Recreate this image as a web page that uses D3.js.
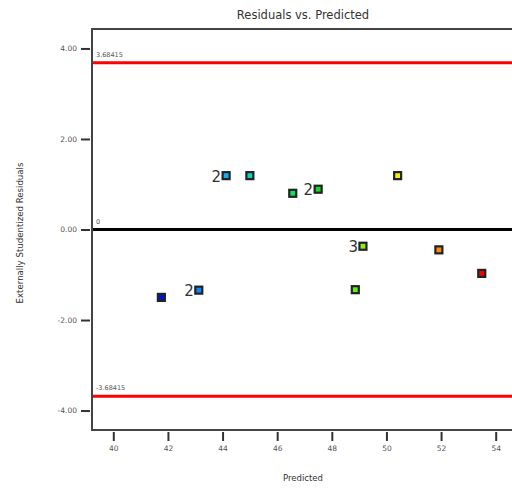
<!DOCTYPE html>
<html>
<head>
<meta charset="utf-8">
<script src="https://cdn.jsdelivr.net/npm/d3@7/dist/d3.min.js"></script>
<style>
  html, body { margin: 0; padding: 0; background: #fff; }
  svg { display: block; }
  text { font-family: "DejaVu Sans", sans-serif; }
</style>
</head>
<body>
<svg id="chart" width="512" height="488"></svg>
<script>
// Residual diagnostics: externally studentized residuals against predicted values
const predicted = [41.76, 43.13, 44.13, 45.00, 46.57, 47.50, 50.41, 49.14, 48.86, 51.92, 53.49];
const residuals = [-1.50, -1.34, 1.19, 1.19, 0.80, 0.89, 1.19, -0.37, -1.33, -0.45, -0.97];
const pointColors = ["#0010e0", "#0a88ff", "#10b0f0", "#10d0c0", "#10e060", "#10dc20",
                     "#f0f010", "#90f010", "#60f010", "#ff8810", "#f80000"];
const repeatCounts = ["", "2", "2", "", "", "2", "", "3", "", "", ""];
const limitValue = 3.68415;
const limitLabels = ["3.68415", "0", "-3.68415"];
const yTicks = [-4, -2, 0, 2, 4];
const xTicks = [40, 42, 44, 46, 48, 50, 52, 54];

const svg = d3.select("#chart");
const plotLeft = 92, plotTop = 29, plotBottom = 430, plotRight = 523;

const x = d3.scaleLinear().domain([39.22, 55.0]).range([plotLeft, plotRight]);
const y = d3.scaleLinear().domain([-4.43, 4.43]).range([plotBottom, plotTop]);

// Title and axis labels
svg.append("text").attr("x", 303).attr("y", 19).attr("text-anchor", "middle")
  .attr("font-size", 11.5).attr("fill", "#333").text("Residuals vs. Predicted");
svg.append("text").attr("x", 303).attr("y", 481).attr("text-anchor", "middle")
  .attr("font-size", 8.5).attr("fill", "#333").text("Predicted");
svg.append("text").attr("transform", "translate(23,233) rotate(-90)").attr("text-anchor", "middle")
  .attr("font-size", 8.6).attr("fill", "#333").text("Externally Studentized Residuals");

// Axes
const yAxis = svg.append("g").attr("transform", `translate(${plotLeft - 2},0)`)
  .call(d3.axisLeft(y).tickValues(yTicks).tickFormat(d => d.toFixed(2)).tickSize(9).tickPadding(4));
const xAxis = svg.append("g").attr("transform", `translate(0,${plotBottom + 2})`)
  .call(d3.axisBottom(x).tickValues(xTicks).tickFormat(d => String(d)).tickSize(9).tickPadding(5));
[yAxis, xAxis].forEach(g => {
  g.select(".domain").remove();
  g.selectAll(".tick line").attr("stroke", "#333").attr("stroke-width", 2);
  g.selectAll(".tick text").attr("fill", "#555").attr("font-size", 7.5)
    .attr("font-family", "DejaVu Sans, sans-serif");
});

// Plot frame (left, top, bottom)
svg.append("path")
  .attr("d", `M${plotRight},${plotTop} H${plotLeft} V${plotBottom} H${plotRight}`)
  .attr("fill", "none").attr("stroke", "#444").attr("stroke-width", 2);

// Reference lines
const refLines = [limitValue, 0, -limitValue];
const refColors = ["#ff0000", "#000000", "#ff0000"];
refLines.forEach((v, i) => {
  svg.append("line").attr("x1", plotLeft + 1).attr("x2", plotRight)
    .attr("y1", y(v)).attr("y2", y(v))
    .attr("stroke", refColors[i]).attr("stroke-width", 3);
  svg.append("text").attr("x", plotLeft + 4).attr("y", y(v) - 6)
    .attr("font-size", 6.5).attr("fill", "#555").text(limitLabels[i]);
});

// Points
const pts = predicted.map((p, i) => ({ p, r: residuals[i], c: pointColors[i], n: repeatCounts[i] }));
svg.append("g").selectAll("rect").data(pts).join("rect")
  .attr("x", d => x(d.p) - 3.5).attr("y", d => y(d.r) - 3.5)
  .attr("width", 7).attr("height", 7)
  .attr("fill", d => d.c).attr("stroke", "#222").attr("stroke-width", 2.2);

svg.append("g").selectAll("text").data(pts.filter(d => d.n)).join("text")
  .attr("x", d => x(d.p) - 5).attr("y", d => y(d.r) + 6)
  .attr("text-anchor", "end").attr("font-size", 15).attr("fill", "#333")
  .text(d => d.n);
</script>
</body>
</html>
